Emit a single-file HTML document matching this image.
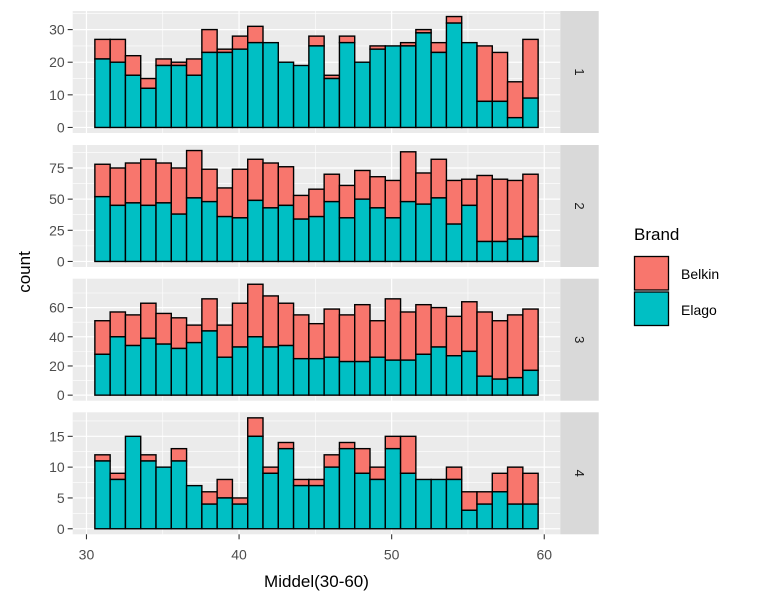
<!DOCTYPE html>
<html><head><meta charset="utf-8"><style>
body{margin:0;background:#fff;}
svg text{font-family:"Liberation Sans",Arial,sans-serif;}
</style></head><body>
<svg id="chart" width="758" height="606" xmlns="http://www.w3.org/2000/svg"></svg>
<script>
const bins = [31,32,33,34,35,36,37,38,39,40,41,42,43,44,45,46,47,48,49,50,51,52,53,54,55,56,57,58,59];
const facetLabels = ["1","2","3","4"];
const elago1 = [21,20,16,12,19,19,16,23,23,24,26,26,20,19,25,15,26,20,24,25,25,29,23,32,26,8,8,3,9];
const belkin1 = [6,7,6,3,2,1,5,7,1,4,5,0,0,0,3,1,2,0,1,0,1,1,3,2,0,17,15,11,18];
const elago2 = [52,45,47,45,47,38,51,48,36,35,49,43,45,34,36,48,35,50,43,35,48,46,51,30,45,16,16,18,20];
const belkin2 = [26,30,32,37,32,37,38,26,23,39,33,36,31,19,22,22,26,23,25,30,40,25,31,35,21,53,50,47,50];
const elago3 = [28,40,34,39,35,32,36,44,26,33,40,33,34,25,25,26,23,23,26,24,24,28,33,27,30,13,11,12,17];
const belkin3 = [23,17,21,24,21,21,12,22,22,30,36,35,29,30,24,33,32,39,25,42,33,34,27,27,34,44,40,43,42];
const elago4 = [11,8,15,11,10,11,7,4,5,4,15,9,13,7,7,10,13,9,8,13,9,8,8,8,3,4,6,4,4];
const belkin4 = [1,1,0,1,0,2,0,2,3,1,3,1,1,1,1,2,1,4,2,2,6,0,0,2,3,2,3,6,5];
const yTicks = [[0,10,20,30],[0,25,50,75],[0,20,40,60],[0,5,10,15]];
const xTicks = [30,40,50,60];
const legendLabels = ["Belkin","Elago"];

const NS="http://www.w3.org/2000/svg";
const svg=document.getElementById('chart');
function mk(tag,attrs,parent){const e=document.createElementNS(NS,tag);for(const k in attrs)e.setAttribute(k,attrs[k]);(parent||svg).appendChild(e);return e;}
const PX0=72.7, PX1=560.3, STRIPW=38.4;
const binW=1.0017, binStart=30.55;
const xmin=binStart, xmax=binStart+bins.length*binW, xr=xmax-xmin;
const dx0=xmin-0.05*xr, dx1=xmax+0.05*xr;
function xs(v){return PX0+(v-dx0)/(dx1-dx0)*(PX1-PX0);}
const tops=[11,145,278.7,412.3], PH=122;
const elagoAll=[elago1,elago2,elago3,elago4], belkinAll=[belkin1,belkin2,belkin3,belkin4];
const CB="#F8766D", CE="#00BFC4";

for(let p=0;p<4;p++){
  const top=tops[p], bot=top+PH;
  const tot=elagoAll[p].map((e,i)=>e+belkinAll[p][i]);
  const mx=Math.max(...tot);
  const d0=-0.05*mx, d1=1.05*mx;
  const ys=v=>bot-(v-d0)/(d1-d0)*PH;
  const g=mk('g',{},svg);
  
  
  const bg=mk('rect',{x:PX0,y:top,width:PX1-PX0,height:PH,fill:'#EBEBEB'},g);
  
  
  const yt=yTicks[p], step=yt[1]-yt[0];
  for(let k=0;k<yt.length;k++){const v=yt[k]+step/2;const y=ys(v);if(y>top&&y<bot)mk('line',{x1:PX0,x2:PX1,y1:y,y2:y,stroke:'#fff','stroke-width':0.6},g);}
  [35,45,55].forEach(v=>mk('line',{x1:xs(v),x2:xs(v),y1:top,y2:bot,stroke:'#fff','stroke-width':0.6},g));
  yt.forEach(v=>{const y=ys(v);mk('line',{x1:PX0,x2:PX1,y1:y,y2:y,stroke:'#fff','stroke-width':1.2},g);
    mk('line',{x1:PX0-5,x2:PX0,y1:y,y2:y,stroke:'#333','stroke-width':1.1},svg);
    const t=mk('text',{x:PX0-8,y:y+5,'text-anchor':'end','font-size':14,fill:'#4D4D4D'},svg);t.textContent=v;
    
    });
  xTicks.forEach(v=>mk('line',{x1:xs(v),x2:xs(v),y1:top,y2:bot,stroke:'#fff','stroke-width':1.2},g));
  bins.forEach((b,i)=>{
    const x=xs(binStart+i*binW), w=xs(binStart+(i+1)*binW)-x;
    const e=elagoAll[p][i], bl=belkinAll[p][i];
    if(bl>0){const r=mk('rect',{x:x,y:ys(e+bl),width:w,height:ys(e)-ys(e+bl),fill:CB,stroke:'#000','stroke-width':1.4},g);
      
      }
    if(e>0){const r=mk('rect',{x:x,y:ys(e),width:w,height:ys(0)-ys(e),fill:CE,stroke:'#000','stroke-width':1.4},g);
      
      }
  });
  const st=mk('rect',{x:PX1,y:top,width:STRIPW,height:PH,fill:'#D9D9D9'},svg);
  
  
  const cx=PX1+STRIPW/2, cy=top+PH/2;
  const sl=mk('text',{x:cx,y:cy,'text-anchor':'middle','font-size':13,fill:'#1A1A1A',transform:`rotate(90 ${cx} ${cy})`,dy:4.5},svg);
  sl.textContent=facetLabels[p];
  
  
}
const bot4=tops[3]+PH;
xTicks.forEach(v=>{const x=xs(v);mk('line',{x1:x,x2:x,y1:bot4,y2:bot4+5,stroke:'#333','stroke-width':1.1});
  const t=mk('text',{x:x,y:bot4+25,'text-anchor':'middle','font-size':14,fill:'#4D4D4D'});t.textContent=v;
  
  });
const xt=mk('text',{x:(PX0+PX1)/2,y:587,'text-anchor':'middle','font-size':17,fill:'#000'});xt.textContent='Middel(30-60)';


const yt2=mk('text',{x:30,y:272,'text-anchor':'middle','font-size':17,fill:'#000',transform:'rotate(-90 30 272)'});yt2.textContent='count';


const lt=mk('text',{x:634,y:240,'font-size':17,fill:'#000'});lt.textContent='Brand';


[CB,CE].forEach((c,i)=>{
  const r=mk('rect',{x:634.5,y:256.5+i*35.5,width:34,height:33.5,fill:c,stroke:'#000','stroke-width':1.3});
  
  
  const t=mk('text',{x:681,y:279+i*36,'font-size':14,fill:'#000'});t.textContent=legendLabels[i];
  
  
});
</script>
</body></html>
